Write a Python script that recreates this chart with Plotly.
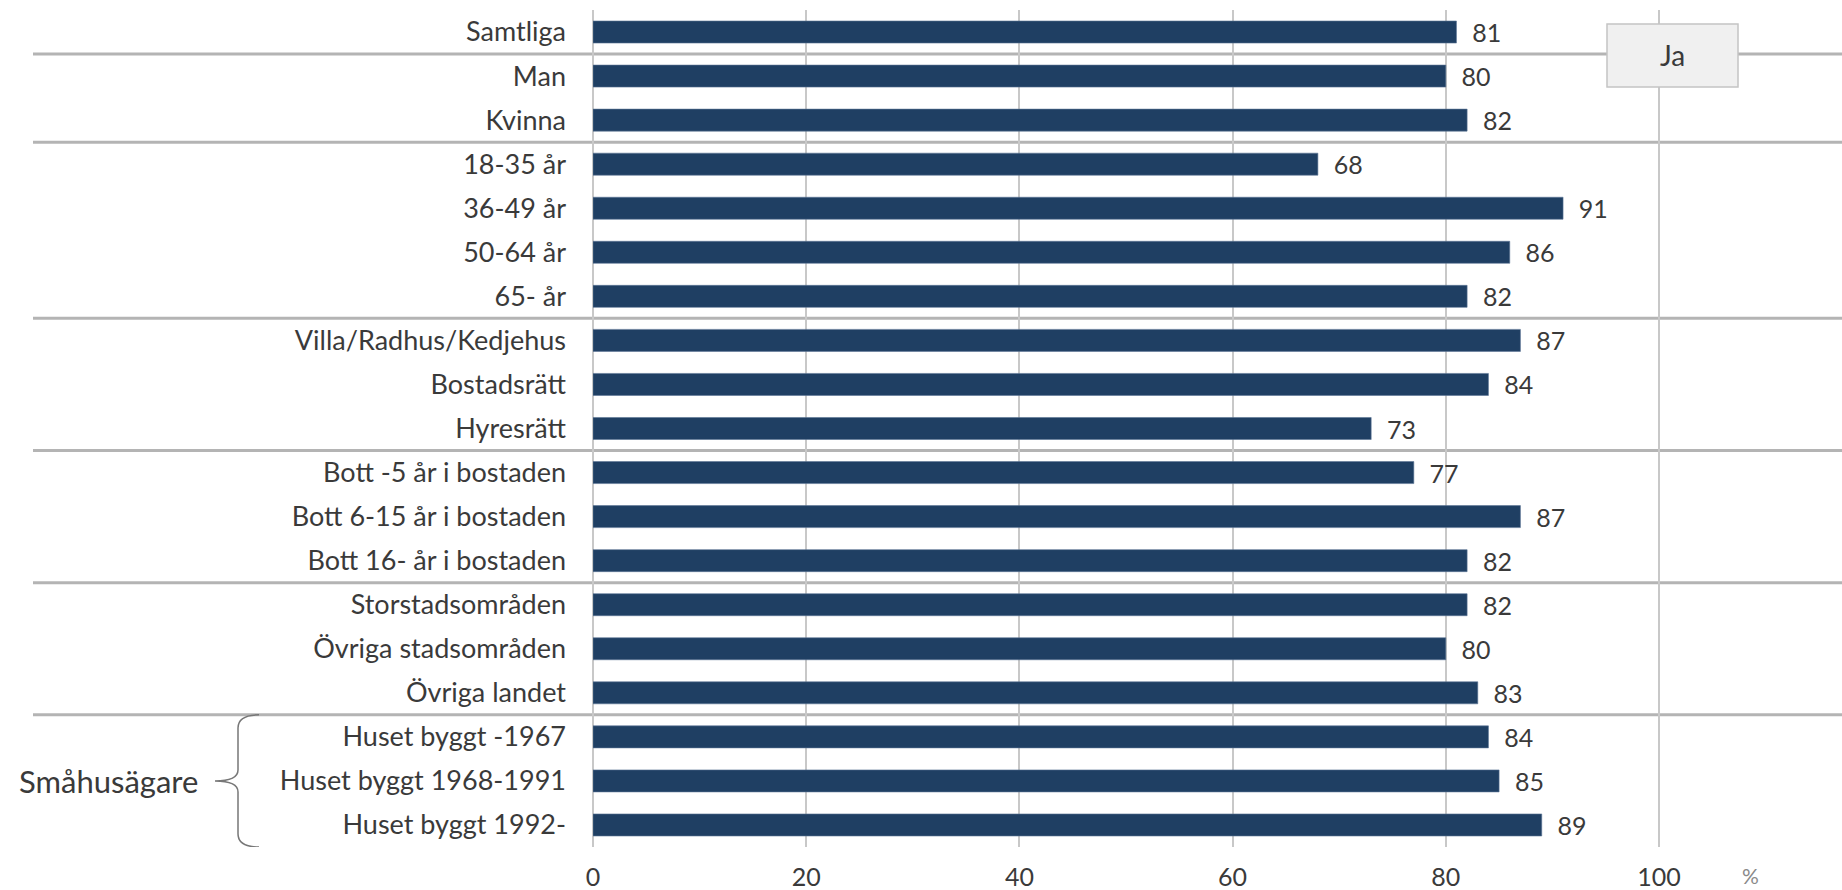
import plotly.graph_objects as go

categories = [
    "Samtliga", "Man", "Kvinna",
    "18-35 år", "36-49 år", "50-64 år", "65- år",
    "Villa/Radhus/Kedjehus", "Bostadsrätt", "Hyresrätt",
    "Bott -5 år i bostaden", "Bott 6-15 år i bostaden", "Bott 16- år i bostaden",
    "Storstadsområden", "Övriga stadsområden", "Övriga landet",
    "Huset byggt -1967", "Huset byggt 1968-1991", "Huset byggt 1992-",
]
values = [81, 80, 82, 68, 91, 86, 82, 87, 84, 73, 77, 87, 82, 82, 80, 83, 84, 85, 89]
series_name = "Ja"
x_ticks = [0, 20, 40, 60, 80, 100]
separators_after = [0, 2, 6, 9, 12, 15]  # group boundaries (row index)
bracket_label = "Småhusägare"
bracket_rows = [16, 18]
unit_label = "%"

FONT = "Lato, 'Open Sans', sans-serif"
TXT = "#3a3a3a"
BAR = "#1f3f63"

W, H = 1842, 890
L, R, T, B = 593, 0, 10, 43
pw = W - L - R
ph = H - T - B

fig = go.Figure()
fig.add_trace(go.Bar(
    x=values, y=categories, orientation="h", name=series_name,
    marker=dict(color=BAR, line=dict(color="#5c7696", width=0.6)),
    text=values, texttemplate="\u00a0\u00a0%{x}", textposition="outside",
    constraintext="none",
    textfont=dict(family=FONT, size=25, color=TXT),
    cliponaxis=False, showlegend=False,
))

px_per_unit = 10.66
xmax = pw / px_per_unit

def xp(px):
    return (px - L) / pw

def yp(py):
    return (T + ph - py) / ph

shapes = []
for s in separators_after:
    shapes.append(dict(type="line", xref="paper", yref="y",
                       x0=xp(33), x1=1.0, y0=s + 0.5, y1=s + 0.5,
                       line=dict(color="#b4b4b4", width=3), layer="below"))

# curly bracket
top = bracket_rows[0] - 0.5
bot = bracket_rows[1] + 0.5
mid = (top + bot) / 2
xe, xb, xt = xp(259), xp(238), xp(215)
path = (f"M {xe},{top} Q {xb},{top} {xb},{top+0.3} "
        f"L {xb},{mid-0.25} Q {xb},{mid} {xt},{mid} "
        f"Q {xb},{mid} {xb},{mid+0.25} "
        f"L {xb},{bot-0.3} Q {xb},{bot} {xe},{bot}")
shapes.append(dict(type="path", xref="paper", yref="y", path=path,
                   line=dict(color="#777777", width=1.5)))

# series label box
shapes.append(dict(type="rect", xref="paper", yref="paper",
                   x0=xp(1607), x1=xp(1738), y0=yp(87), y1=yp(24),
                   fillcolor="#f0f0f0", line=dict(color="#c4c4c4", width=1.5),
                   layer="above"))

annotations = [
    dict(text=series_name, xref="paper", yref="paper",
         x=(xp(1607) + xp(1738)) / 2, y=(yp(87) + yp(24)) / 2,
         showarrow=False, font=dict(family=FONT, size=28, color=TXT),
         xanchor="center", yanchor="middle"),
    dict(text=bracket_label, xref="paper", yref="y", x=xp(200), y=mid,
         showarrow=False, font=dict(family=FONT, size=31, color=TXT),
         xanchor="right", yanchor="middle"),
    dict(text=unit_label, xref="x", yref="paper", x=108.6, y=yp(875),
         showarrow=False, font=dict(family=FONT, size=21, color="#8a8a8a"),
         xanchor="center", yanchor="middle"),
]

fig.update_layout(
    width=W, height=H,
    margin=dict(l=L, r=R, t=T, b=B, autoexpand=False),
    plot_bgcolor="white", paper_bgcolor="white",
    bargap=0.5,
    shapes=shapes, annotations=annotations,
    font=dict(family=FONT, color=TXT),
    xaxis=dict(range=[0, xmax], tickvals=x_ticks, ticktext=[str(v) for v in x_ticks],
               showgrid=True, gridcolor="#c8c8c8", gridwidth=2,
               zeroline=True, zerolinecolor="#c8c8c8", zerolinewidth=2,
               ticks="", ticklabelstandoff=13,
               tickfont=dict(family=FONT, size=25, color=TXT), showline=False),
    yaxis=dict(categoryorder="array", categoryarray=categories,
               range=[len(categories) - 0.5, -0.5], ticks="",
               ticklabelstandoff=26,
               tickfont=dict(family=FONT, size=27, color=TXT), showgrid=False),
)

fig.write_html(
    "out.html",
    config={"displayModeBar": False},
    post_script="document.body.style.margin='0px';document.body.style.overflow='hidden';",
)
